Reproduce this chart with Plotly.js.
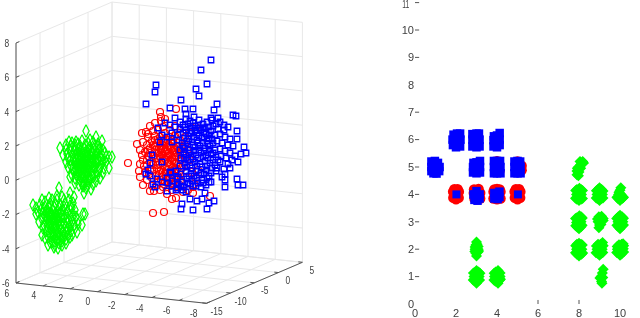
<!DOCTYPE html>
<html><head><meta charset="utf-8">
<script src="https://cdn.plot.ly/plotly-3.0.1.min.js"></script>
<style>html,body{margin:0;padding:0;background:#fff}#c{width:640px;height:318px;filter:blur(0.35px)}</style>
</head><body><div id="c"></div>
<script>
// ---- Left panel: clouds, in view-plane units of the projected 3-D box ----
const greenCloud = [[86,131],[96,137],[102,141],[90,140],[82,141],[76,142],[69,142],[60,148],[63,155],[68,167],[70,177],[75,183],[84,193],[91,189],[96,181],[103,173],[109,168],[112,157],[109,157],[105,153],[100,148],
[75,148],[80,146],[85,145],[90,147],[95,146],[70,150],[66,150],[72,155],[77,153],[82,152],[87,151],[92,153],[97,152],[102,155],[68,158],[73,160],[78,158],[83,157],[88,156],[93,159],[98,158],[103,161],[106,162],[71,166],[76,165],[81,163],[86,162],[91,164],[96,163],[101,166],[74,171],[79,169],[84,168],[89,170],[94,168],[99,171],[77,176],[82,174],[87,175],[92,174],[97,176],[80,180],[85,181],[90,179],[83,186],[88,185],[75,145],[66,145],[71,146],[80,156],[85,160],[78,163],[84,165],[81,170],[86,172],[83,177],[87,166],[80,160],[90,161],[76,170],
[74,151],[79,149],[84,149],[89,150],[94,149],[99,150],[75,156],[80,154],[85,153],[90,155],[95,155],[100,157],[76,160],[81,159],[86,158],[91,157],[96,160],[101,159],[75,163],[79,161],[83,160],[88,159],[93,162],[98,161],[77,167],[82,166],[85,164],[89,163],[94,165],[99,168],[73,168],[79,172],[84,171],[88,172],[92,170],[96,172],[78,174],[81,177],[85,176],[89,177],[93,177],[84,183],[87,181],[82,183],[80,151],[86,155],[92,151],[83,162],[79,165],[88,168],
[72,143],[78,144],[88,143],[93,142],[98,144],[67,154],[70,160],[66,162],[72,175],[75,178],[79,185],[86,188],[93,184],[100,178],[104,168],[106,157],[103,150],[98,147],
[59,188],[74,197],[70,193],[62,197],[57,196],[49,198],[42,200],[33,205],[36,214],[39,222],[42,235],[48,245],[58,248],[66,243],[70,237],[77,232],[82,225],[83,214],[85,214],[75,210],[73,203],
[40,205],[45,207],[50,204],[55,203],[60,205],[65,204],[70,206],[38,212],[43,213],[48,211],[53,210],[58,211],[63,210],[68,212],[73,215],[42,219],[47,218],[52,216],[57,217],[62,216],[67,218],[72,221],[78,220],[44,225],[49,224],[54,223],[59,222],[64,224],[69,226],[74,225],[46,231],[51,229],[56,228],[61,230],[66,231],[71,231],[48,237],[53,235],[58,234],[63,236],[68,236],[52,242],[57,240],[62,241],[55,245],[52,221],[55,214],[50,217],[57,220],[54,227],[59,226],[56,232],[58,238],[60,220],[48,214],
[44,209],[49,208],[54,207],[59,208],[64,207],[46,212],[51,213],[56,213],[61,212],[66,214],[45,216],[50,214],[53,218],[59,215],[64,217],[70,216],[46,221],[49,220],[55,219],[58,219],[63,220],[67,222],[47,226],[51,225],[56,225],[61,224],[66,227],[71,226],[49,232],[53,231],[58,231],[63,232],[68,229],[51,236],[55,237],[60,236],[65,235],[54,241],[59,243],[62,238],
[45,202],[52,200],[57,200],[64,200],[69,200],[36,208],[41,210],[43,228],[45,238],[50,242],[54,247],[62,245],[66,239],[72,235],[75,228],[78,224],[76,217],[72,208]];
const redCloud = [[153,213],[164,212],[172,199],[176,198],[210,196],[128,163],[137,144],[139,171],[140,177],[143,185],[150,191],[154,191],[193,193],[194,184],[142,155],[148,137],[160,112],[161,117],[165,119],[161,121],[146,132],[176,109],[196,127],
[155,123],[150,126],[158,130],[163,127],[148,134],[153,131],[142,133],[143,142],[147,145],[140,150],[145,152],[150,148],[155,140],[160,137],[165,133],[170,130],[175,126],[180,133],[185,137],[190,133],[143,160],[147,165],[140,164],[145,172],[150,170],[147,180],[152,178],[157,185],[160,190],[167,194],[172,190],[178,186],[183,192],[188,190],[193,187],[196,178],[192,172],[186,178],[180,175],[198,170],
[153,145],[157,143],[161,146],[165,143],[169,146],[173,144],[177,147],[155,150],[159,152],[163,149],[167,151],[171,149],[175,152],[179,150],[154,156],[158,158],[162,155],[166,157],[170,155],[174,157],[178,155],[156,162],[160,164],[164,161],[168,163],[172,161],[176,163],[157,168],[161,170],[165,167],[169,169],[173,167],[177,169],[159,174],[163,176],[167,173],[171,175],[175,173],[161,180],[165,182],[169,179],[173,181],[177,178],[181,181],[163,187],[170,186],[180,140],[185,145],[183,155],[186,165],[190,160],[148,156],[151,162],[152,170],[155,136],[170,137],[175,136],[165,139],[182,168],[187,150],
[155,146],[159,148],[163,145],[167,147],[171,146],[175,148],[157,153],[161,150],[165,152],[169,153],[173,151],[177,153],[156,158],[160,157],[164,158],[168,156],[172,158],[176,157],[158,165],[162,163],[166,160],[170,164],[174,162],[178,165],[159,171],[163,172],[167,170],[171,171],[175,170],[179,172],[162,177],[166,178],[170,177],[174,178],[178,176],[164,184],[168,183],[172,184],[176,183],[180,185],[156,176],[153,165],[150,153],[147,160],[152,186],[158,182],[149,174],[144,166],[148,150],[152,141],[158,139],[163,141],[168,140],[173,140],[178,143],[183,148],[186,158],[181,160]];
const blueCloud = [[211,60],[201,70],[207,84],[196,89],[199,96],[156,85],[155,92],[146,104],[181,100],[217,104],[214,110],[170,108],[185,109],[193,109],[186,114],[233,115],[236,116],[211,118],[218,118],[237,131],[237,139],[218,129],[224,130],[244,147],[241,154],[246,153],[238,162],[230,168],[224,169],[217,168],[225,174],[225,180],[225,187],[237,179],[238,185],[243,185],[209,182],[205,193],[202,199],[197,201],[190,199],[182,204],[181,209],[193,210],[207,209],[209,203],[214,201],[167,191],[177,188],[155,187],
[175,118],[180,122],[186,119],[190,121],[194,117],[199,120],[203,124],[207,122],[212,120],[216,124],[220,122],[224,125],[228,127],[205,128],[209,127],[213,126],[195,126],[190,128],[185,127],[180,129],[175,127],[170,125],[165,123],[172,133],[178,135],[183,133],[188,136],[192,131],[197,133],[201,130],[206,134],[211,131],[215,135],[220,134],[225,137],[230,139],[233,146],[228,145],[222,143],[217,141],[212,139],[207,141],[202,138],[197,140],[192,142],[187,141],[182,143],[177,140],[172,142],[167,137],[162,135],[158,128],[160,142],[180,150],[185,148],[190,150],[195,147],[200,146],[205,148],[210,146],[215,150],[220,149],[225,151],[230,153],[235,156],[226,158],[221,156],[216,157],[211,154],[206,155],[201,153],[196,155],[191,157],[186,155],[181,158],[152,155],[150,163],[180,166],[185,163],[190,165],[195,162],[200,164],[205,161],[210,163],[215,165],[220,162],[232,160],[228,164],[148,170],[146,174],[150,176],[171,173],[176,171],[181,174],[186,171],[191,174],[196,171],[201,173],[206,170],[211,173],[216,171],[222,177],[207,178],[202,180],[197,178],[192,181],[187,179],[182,182],[177,179],[172,181],[167,178],[162,182],[157,179],[153,184],[172,186],[178,184],[184,187],[190,184],[196,186],[201,187],[206,185],[211,182],[186,192],[183,190],[176,190],
[183,125],[188,124],[193,123],[198,125],[203,128],[186,130],[191,133],[195,130],[199,128],[204,132],[209,135],[184,138],[189,139],[194,137],[199,136],[204,137],[209,138],[183,146],[188,144],[193,145],[198,143],[203,143],[208,144],[213,143],[184,152],[189,153],[194,151],[199,150],[204,151],[209,150],[213,153],[184,159],[188,160],[193,159],[198,158],[203,157],[208,158],[213,160],[218,160],[187,167],[192,168],[197,166],[202,167],[207,166],[212,168],[189,176],[194,176],[199,175],[204,174],[209,176],[188,183],[193,186],[198,183],[203,183],[178,177],[168,183],[181,186],[162,162],[170,172]];

// 3-D box ticks
const xTicks = [6,4,2,0,-2,-4,-6,-8];
const yTicks = [-15,-10,-5,0,5];
const zTicks = [-6,-4,-2,0,2,4,6,8];

// ---- Right panel: values in chart units ----
const greenFlat = [
[8.18,5.2],[8.22,5.15],[8.08,5.08],[8.05,5.2],[7.98,5],[8.08,4.95],[7.9,4.85],[8,4.82],[7.9,4.72],[7.97,4.68],[7.92,4.95],
[7.9,3.82],[8,3.78],[8.1,3.82],[7.88,4],[8,4],[8.12,4],[7.9,4.18],[8.02,4.22],[8.1,4.18],[7.83,3.86],[8.17,3.85],[7.84,4.14],[8.17,4.14],
[7.92,2.8],[8,2.75],[8.1,2.82],[7.88,2.97],[8,3],[8.1,3],[7.9,3.15],[8.02,3.22],[8.1,3.18],[7.84,2.86],[8.15,2.87],[7.83,3.12],[8.16,3.14],
[7.9,1.82],[8,1.75],[8.12,1.82],[7.88,2],[8,2],[8.14,2],[7.9,2.18],[8,2.22],[8.1,2.18],[7.83,1.87],[8.18,1.86],[7.84,2.13],[8.16,2.15],
[8.9,3.85],[9,3.78],[9.1,3.85],[8.88,4],[9,4],[9.14,4],[8.92,4.18],[9,4.24],[9.1,4.18],[8.84,3.87],[9.17,3.87],[8.85,4.13],[9.17,4.12],
[8.97,2.78],[9,2.88],[9.07,2.9],[8.93,3],[9.05,3.05],[9.18,3.05],[8.97,3.18],[9.1,3.2],[8.9,3.1],[9.18,3.12],
[8.9,1.85],[9,1.78],[9.1,1.85],[8.88,2],[9,2],[9.13,2],[8.93,2.18],[9.05,2.18],[9.15,2.24],[8.83,1.87],[9.16,1.88],[8.85,2.12],[9.18,2.13],
[9.18,1.27],[9.14,1.13],[9.08,1],[9.02,0.95],[9.16,0.97],[9.1,0.82],[9.12,0.76],
[9.9,3.85],[10,3.78],[10.1,3.85],[9.93,4],[10.05,4],[10.17,3.9],[10,4.15],[10.04,4.24],[9.85,3.9],[10.15,3.88],[9.95,4.08],
[9.92,2.82],[10,2.75],[10.1,2.84],[9.9,3],[10,3],[10.14,3],[9.92,3.18],[10,3.24],[10.1,3.18],[9.85,2.87],[10.17,2.88],[9.84,3.12],[10.17,3.13],
[9.92,1.85],[10,1.78],[10.08,1.83],[9.87,2],[10,2],[10.16,2.02],[9.95,2.16],[10.08,2.18],[10.15,2.2],[9.84,1.88],[10.18,1.9],[9.86,2.1],[10.18,2.13],
[3,1.75],[2.97,1.85],[3.07,1.9],[2.93,2],[3,2],[3.08,2],[2.97,2.15],[3.03,2.18],[3,2.26],[2.92,1.92],[3.1,1.93],[2.93,2.08],[3.08,2.1],
[2.9,0.85],[3,0.76],[3.08,0.85],[2.88,1],[3,1],[3.13,1],[2.93,1.15],[3,1.22],[3.1,1.17],[2.84,0.88],[3.15,0.88],[2.85,1.13],[3.17,1.12],
[3.92,0.83],[4.05,0.76],[4.12,0.87],[3.88,1],[4,1],[4.15,1],[3.93,1.17],[4.05,1.22],[4.1,1.14],[3.85,0.88],[4.17,0.9],[3.86,1.12],[4.15,1.13]];
const redFlat = [
[1.87,3.88],[2,3.82],[2.13,3.88],[1.86,4.1],[2,4],[2.14,4.1],[1.92,4.19],[2.08,4.19],
[2.88,4.18],[3.1,4.2],[2.87,4.05],[3.18,3.85],[3.18,4.05],[2.9,3.85],[3,3.82],
[3.83,3.85],[4,3.82],[4.17,3.85],[3.83,4.1],[4,4.2],[4.17,4.1],[3.87,4.18],[4.13,4.18],
[4.87,3.88],[5,3.82],[5.13,3.88],[4.86,4.1],[5,4],[5.14,4.1],[4.92,4.19],[5.08,4.19],
[5.2,4.88],[5.2,5.05],[5,5.2],[4,5.21],[4.12,4.85]];
const blueFlat = [
[1.85,5.8],[2,5.72],[2.2,5.75],[1.83,6],[2.02,5.98],[2.22,6],[1.88,6.18],[2.05,6.22],[2.2,6.22],
[2.8,5.75],[3,5.72],[3.15,5.75],[2.8,6],[3,6],[3.15,6],[2.8,6.2],[3,6.22],[3.12,6.22],
[3.83,5.75],[4,5.72],[4.13,5.8],[3.83,5.98],[4,6],[4.13,6],[3.85,6.12],[4,6.15],[4.13,6.24],
[0.8,4.85],[0.9,4.77],[1.05,4.76],[1.18,4.85],[0.8,5],[1,5],[1.2,5],[0.8,5.2],[0.97,5.22],[1.12,5.15],
[2.83,4.8],[3,4.77],[3.17,4.8],[2.83,5],[3,5],[3.17,5],[2.85,5.15],[3,5.17],[3.17,5.22],
[3.85,4.77],[4,4.77],[4.17,4.77],[3.85,5],[4,5],[4.17,5],[3.85,5.22],[4,5.22],[4.15,5.22],
[4.85,4.77],[5,4.77],[5.15,4.77],[4.85,5],[5,5],[5.15,5],[4.85,5.2],[5,5.22],[5.13,5.2],
[2.9,3.8],[3.05,3.77],[3.15,3.85],[2.95,4],[3.15,4],[3,4.12],[2.85,4],
[3.87,3.85],[4.03,3.83],[4.12,3.9],[3.87,4.05],[4.03,4.05],[4.12,4.1]];
const blueFlatSingles = [[2.02,4],[5.02,4]];
const flatXTicks = [0,2,4,6,8,10];
const flatYTicks = [0,1,2,3,4,5,6,7,8,9,10];
const flatYMarks = [1,2,3,4,5,6,7,9,10,11];
const flatXMarks = [6,8];

const xs = a => a.map(p => p[0]), ys = a => a.map(p => p[1]);

// Orthographic projection of the 3-D box onto the left panel's plane
function proj(x,y,z){
  return [16 + (6-x)*13.6 + (y+15)*4.8,
          283 + (6-x)*1.45 - (y+15)*2.05 - (z+6)*17.14];
}
function seg(list){
  const X=[],Y=[];
  list.forEach(s=>{const a=proj(...s[0]),b=proj(...s[1]);X.push(a[0],b[0],null);Y.push(a[1],b[1],null);});
  return {X,Y};
}
const xMin=-8,xMax=6,yMin=-15,yMax=5,zMin=-6,zMax=8;
const gridSegs=[];
xTicks.forEach(x=>{gridSegs.push([[x,yMax,zMin],[x,yMax,zMax]]);gridSegs.push([[x,yMin,zMin],[x,yMax,zMin]]);});
yTicks.forEach(y=>{gridSegs.push([[xMax,y,zMin],[xMax,y,zMax]]);gridSegs.push([[xMin,y,zMin],[xMax,y,zMin]]);});
zTicks.forEach(z=>{gridSegs.push([[xMax,yMin,z],[xMax,yMax,z]]);gridSegs.push([[xMin,yMax,z],[xMax,yMax,z]]);});
const g=seg(gridSegs);
const axisSegs=[[[xMax,yMin,zMin],[xMin,yMin,zMin]],[[xMin,yMin,zMin],[xMin,yMax,zMin]],[[xMax,yMin,zMin],[xMax,yMin,zMax]]];
xTicks.forEach(x=>axisSegs.push([[x,yMin,zMin],[x,yMin+0.7,zMin]]));
yTicks.forEach(y=>axisSegs.push([[xMin,y,zMin],[xMin+0.3,y,zMin]]));
zTicks.forEach(z=>axisSegs.push([[xMax,yMin,z],[xMax,yMin+0.7,z]]));
const ax=seg(axisSegs);

const lblFont={family:'"Liberation Sans",sans-serif',size:10.5,color:'#404040'};
const flatFont={family:'"Liberation Sans",sans-serif',size:11,color:'#404040'};
const anns=[];
xTicks.forEach(x=>{const p=proj(x,yMin,zMin);const off=x<0?[-13,10]:[-9.5,9.5];
  anns.push({x:p[0]+off[0],y:p[1]+off[1],xref:'x',yref:'y',text:String(x),showarrow:false,font:lblFont});});
yTicks.forEach(y=>{const p=proj(xMin,y,zMin);
  anns.push({x:p[0]+10,y:p[1]+7.5,xref:'x',yref:'y',text:String(y),showarrow:false,font:lblFont});});
zTicks.forEach(z=>{const p=proj(xMax,yMin,z);
  anns.push({x:p[0]-4,y:p[1],xref:'x',yref:'y',xanchor:'right',text:String(z),showarrow:false,font:lblFont});});
// top label of the right panel's value axis
anns.push({x:0,y:11,xref:'x2',yref:'y2',xanchor:'right',xshift:-2,yshift:-1.5,text:'11',showarrow:false,font:flatFont});

const traces=[
 {x:g.X,y:g.Y,mode:'lines',line:{color:'#e8e8e8',width:1},hoverinfo:'skip'},
 {x:ax.X,y:ax.Y,mode:'lines',line:{color:'#555',width:1},hoverinfo:'skip'},
 {x:xs(greenCloud),y:ys(greenCloud),mode:'markers',marker:{symbol:'diamond-tall-open',size:9,color:'#00ff00',line:{width:1.2,color:'#00ff00'}},hoverinfo:'skip'},
 {x:xs(redCloud),y:ys(redCloud),mode:'markers',marker:{symbol:'circle-open',size:7,color:'#ff0000',line:{width:1.2,color:'#ff0000'}},hoverinfo:'skip'},
 {x:xs(blueCloud),y:ys(blueCloud),mode:'markers',marker:{symbol:'square-open',size:5.5,color:'#0000ff',line:{width:1.3,color:'#0000ff'}},hoverinfo:'skip'},
 {x:xs(greenFlat),y:ys(greenFlat),xaxis:'x2',yaxis:'y2',mode:'markers',marker:{symbol:'diamond',size:8.5,color:'#00ff00'},hoverinfo:'skip'},
 {x:xs(redFlat),y:ys(redFlat),xaxis:'x2',yaxis:'y2',mode:'markers',marker:{symbol:'circle',size:10.5,color:'#ff0000'},hoverinfo:'skip'},
 {x:xs(blueFlat),y:ys(blueFlat),xaxis:'x2',yaxis:'y2',mode:'markers',marker:{symbol:'square',size:8.5,color:'#0000ff'},hoverinfo:'skip'},
 {x:xs(blueFlatSingles),y:ys(blueFlatSingles),xaxis:'x2',yaxis:'y2',mode:'markers',marker:{symbol:'square',size:8,color:'#0000ff'},hoverinfo:'skip'},
 {x:flatYMarks.map(()=>0.1),y:flatYMarks,xaxis:'x2',yaxis:'y2',mode:'markers',marker:{symbol:'line-ew-open',size:3,color:'#555',line:{width:1,color:'#555'}},hoverinfo:'skip'},
 {x:flatXMarks,y:flatXMarks.map(()=>0.07),xaxis:'x2',yaxis:'y2',mode:'markers',marker:{symbol:'line-ns-open',size:3,color:'#555',line:{width:1,color:'#555'}},hoverinfo:'skip'}
];
const layout={
 width:640,height:318,margin:{l:0,r:0,t:0,b:0},showlegend:false,paper_bgcolor:'#fff',plot_bgcolor:'#fff',
 annotations:anns,
 xaxis:{domain:[0,0.5],range:[0,320],visible:false,fixedrange:true},
 yaxis:{domain:[0,1],range:[318,0],visible:false,fixedrange:true},
 xaxis2:{domain:[415/640,1],range:[0,225/20.5],anchor:'y2',tickmode:'array',tickvals:flatXTicks,ticks:'',showgrid:false,zeroline:false,showline:false,tickfont:flatFont,ticklabelstandoff:1,fixedrange:true},
 yaxis2:{domain:[14/318,1],range:[0,304/27.4],anchor:'x2',tickmode:'array',tickvals:flatYTicks,ticks:'',showgrid:false,zeroline:false,showline:false,tickfont:flatFont,fixedrange:true}
};
Plotly.newPlot('c',traces,layout,{displayModeBar:false,staticPlot:true}).then(()=>{
  // narrow the labels the way the squeezed original shows them
  const squeeze=(sel,f)=>document.querySelectorAll(sel).forEach(t=>{
    const k=t.textContent==='11'?0.62:f;
    t.setAttribute('textLength',(t.getComputedTextLength()*k).toFixed(2));
    t.setAttribute('lengthAdjust','spacingAndGlyphs');
  });
  squeeze('.annotation-text',0.8);
  squeeze('.xtick text,.ytick text',0.62);
});
</script></body></html>
